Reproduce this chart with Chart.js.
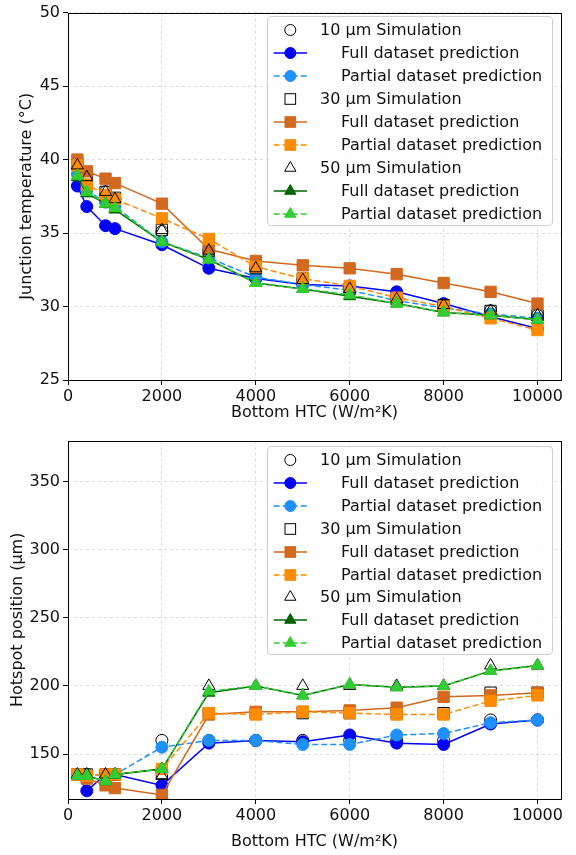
<!DOCTYPE html>
<html>
<head>
<meta charset="utf-8">
<script src="https://cdn.jsdelivr.net/npm/chart.js@4/dist/chart.umd.min.js"></script>
<style>
  html, body { margin: 0; padding: 0; background: #fff; }
  #page { position: relative; width: 576px; height: 855px; font-family: "DejaVu Sans", sans-serif; }
  .box { position: absolute; width: 576px; left: 0; }
  .legend { position: absolute; background: rgba(255,255,255,0.8); border: 1px solid #d0d0d0; border-radius: 4px; box-sizing: border-box; }
  .legend-row { position: absolute; left: 0; height: 20px; width: 100%; }
  .legend-row svg { position: absolute; left: 4px; top: 0; }
  .legend-row span { position: absolute; top: 0; line-height: 20px; font-size: 16px; color: #111; white-space: nowrap; }
</style>
</head>
<body>
<div id="page">
  <div class="box" style="top:0;height:428px"><canvas id="tempChart" width="576" height="428"></canvas></div>
  <div class="box" style="top:428px;height:427px"><canvas id="hotChart" width="576" height="427"></canvas></div>
  <div class="legend" id="tempLegend" style="left:267px;top:16px;width:286px;height:210px"></div>
  <div class="legend" id="hotLegend" style="left:267px;top:446px;width:286px;height:209px"></div>
</div>
<script>
(function(){
  // bottom heat transfer coefficient, W/m2K
  var htc = [200, 400, 800, 1000, 2000, 3000, 4000, 5000, 6000, 7000, 8000, 9000, 10000];

  // junction temperature (C)
  var sim10T  = [39.6, 38.9, 37.8, 37.3, 35.1, 33.8, 32.6, 31.8, 31.2, 30.5, 30.1, 29.7, 29.4];
  var full10T = [38.2, 36.8, 35.5, 35.3, 34.2, 32.6, 31.9, 31.5, 31.4, 31.0, 30.2, 29.3, 28.5];
  var part10T = [39.0, 37.9, 37.1, 36.8, 34.4, 33.3, 32.0, 31.5, 31.1, 30.4, 29.9, 29.5, 29.2];
  var sim30T  = [39.7, 38.9, 37.8, 37.4, 35.2, 33.8, 32.6, 31.9, 31.2, 30.5, 30.1, 29.7, 29.4];
  var full30T = [40.0, 39.2, 38.7, 38.4, 37.0, 33.9, 33.1, 32.8, 32.6, 32.2, 31.6, 31.0, 30.2];
  var part30T = [39.6, 38.3, 37.6, 37.3, 36.0, 34.6, 32.7, 31.9, 31.4, 30.6, 30.0, 29.2, 28.4];
  var sim50T  = [39.6, 38.8, 37.8, 37.3, 35.2, 33.8, 32.6, 31.8, 31.2, 30.5, 30.1, 29.7, 29.4];
  var full50T = [38.8, 37.7, 37.0, 36.6, 34.4, 33.2, 31.6, 31.2, 30.7, 30.2, 29.6, 29.4, 29.1];
  var part50T = [38.9, 37.8, 37.0, 36.7, 34.4, 33.2, 31.6, 31.2, 30.8, 30.2, 29.6, 29.4, 29.1];

  // hotspot position (um)
  var sim10H  = [135, 135, 135, 135, 160, 160, 160, 160, 160, 160, 160, 175, 175];
  var full10H = [135, 123, 135, 135, 127, 158, 160, 159, 164, 158, 157, 172, 175];
  var part10H = [135, 135, 134, 135, 155, 160, 160, 157, 157, 164, 165, 173, 175];
  var sim30H  = [135, 135, 135, 135, 136, 180, 180, 180, 180, 180, 180, 195, 195];
  var full30H = [135, 132, 127, 125, 120, 179, 181, 181, 182, 184, 192, 193, 195];
  var part30H = [135, 134, 135, 135, 139, 180, 179, 181, 180, 179, 179, 189, 193];
  var sim50H  = [135, 135, 135, 135, 134, 200, 200, 200, 200, 200, 200, 215, 215];
  var full50H = [134, 134, 130, 135, 139, 195, 200, 193, 201, 199, 200, 211, 215];
  var part50H = [134, 134, 130, 135, 139, 196, 200, 193, 201, 199, 200, 211, 215];

  var xTicks = [0, 2000, 4000, 6000, 8000, 10000];
  var tempTicks = [25, 30, 35, 40, 45, 50];
  var hotTicks = [150, 200, 250, 300, 350];

  var labels = ['10 \u00b5m Simulation', 'Full dataset prediction', 'Partial dataset prediction',
                '30 \u00b5m Simulation', 'Full dataset prediction', 'Partial dataset prediction',
                '50 \u00b5m Simulation', 'Full dataset prediction', 'Partial dataset prediction'];
  var shapes = ['circle', 'rect', 'triangle'];
  var radii = { circle: 6, rect: 8, triangle: 7 };
  var fullColors = ['#0000ff', '#d2691e', '#006400'];
  var partColors = ['#1e90ff', '#ff8c00', '#32cd32'];

  function pts(ys){
    return htc.map(function(x, i){ return { x: x, y: ys[i] }; });
  }

  function buildSets(groups){
    var sets = [];
    groups.forEach(function(g, k){
      var shape = shapes[k];
      sets.push({ kind: 'sim', data: pts(g[0]), showLine: false, pointStyle: shape,
        pointRadius: radii[shape], pointBackgroundColor: 'rgba(0,0,0,0)', pointBorderColor: '#000',
        pointBorderWidth: 1 });
      sets.push({ kind: 'full', data: pts(g[1]), borderColor: fullColors[k], borderWidth: 1.5,
        pointStyle: shape, pointRadius: radii[shape], pointBackgroundColor: fullColors[k],
        pointBorderColor: fullColors[k], pointBorderWidth: 1 });
      sets.push({ kind: 'part', data: pts(g[2]), borderColor: partColors[k], borderWidth: 1.5,
        borderDash: [6, 3], pointStyle: shape, pointRadius: radii[shape],
        pointBackgroundColor: partColors[k], pointBorderColor: partColors[k], pointBorderWidth: 1 });
    });
    sets.forEach(function(s, i){
      s.label = labels[i];
      s.order = 100 - i; // later series drawn on top, like matplotlib
      s.tension = 0;
    });
    return sets;
  }

  var frame = {
    id: 'frame',
    afterDraw: function(chart){
      var a = chart.chartArea, ctx = chart.ctx;
      ctx.save();
      ctx.strokeStyle = '#000';
      ctx.lineWidth = 1;
      ctx.strokeRect(Math.round(a.left) + 0.5, Math.round(a.top) + 0.5,
        Math.round(a.right - a.left), Math.round(a.bottom - a.top));
      ctx.restore();
    }
  };

  function plain(v){ return String(v); }

  function makeChart(id, sets, o){
    var font = { family: 'DejaVu Sans', size: 16 };
    var grid = { color: '#d3d3d3', lineWidth: 0.8, drawTicks: true,
      tickColor: '#000', tickLength: 5, tickWidth: 1, tickBorderDash: [] };
    var border = { display: false, dash: [3, 3] };
    return new Chart(document.getElementById(id), {
      type: 'line',
      data: { datasets: sets },
      plugins: [frame],
      options: {
        responsive: false,
        animation: false,
        events: [],
        layout: { padding: { left: 0, right: 15, top: o.padTop, bottom: 0 } },
        plugins: { legend: { display: false }, tooltip: { enabled: false } },
        scales: {
          x: {
            type: 'linear', min: 0, max: 10500,
            grid: grid, border: border,
            ticks: { font: font, color: '#111', padding: 2, maxRotation: 0, callback: plain },
            afterBuildTicks: function(s){ s.ticks = xTicks.map(function(v){ return { value: v }; }); },
            afterFit: function(s){ s.height = o.xHeight; },
            title: { display: true, text: 'Bottom HTC (W/m\u00b2K)', font: font, color: '#111',
              padding: { top: 0, bottom: o.xTitlePad } }
          },
          y: {
            min: o.yMin, max: o.yMax,
            grid: grid, border: border,
            ticks: { font: font, color: '#111', padding: 3, callback: plain },
            afterBuildTicks: function(s){ s.ticks = o.yTicks.map(function(v){ return { value: v }; }); },
            afterFit: function(s){ s.width = 68; },
            title: { display: true, text: o.yTitle, font: font, color: '#111',
              padding: { top: o.yTitlePad, bottom: 0 } }
          }
        }
      }
    });
  }

  function legendIcon(s){
    var c = s.pointBackgroundColor, e = s.pointBorderColor, r = s.pointRadius - 0.5, cx = 18.3, cy = 10;
    var svg = '<svg width="38" height="20" viewBox="0 0 38 20">';
    if (s.kind !== 'sim'){
      svg += '<line x1="1.7" y1="10" x2="35" y2="10" stroke="' + s.borderColor + '" stroke-width="1.5"' +
        (s.borderDash ? ' stroke-dasharray="' + s.borderDash.join(',') + '"' : '') + '/>';
    }
    var fill = s.kind === 'sim' ? 'none' : c;
    if (s.pointStyle === 'circle'){
      svg += '<circle cx="' + cx + '" cy="' + cy + '" r="' + r + '" fill="' + fill + '" stroke="' + e + '"/>';
    } else if (s.pointStyle === 'rect'){
      var h = r * Math.SQRT1_2;
      svg += '<rect x="' + (cx - h) + '" y="' + (cy - h) + '" width="' + 2 * h + '" height="' + 2 * h +
        '" fill="' + fill + '" stroke="' + e + '"/>';
    } else {
      var sz = r * 0.866;
      svg += '<polygon points="' + cx + ',' + (cy - r) + ' ' + (cx + sz) + ',' + (cy + r / 2) + ' ' +
        (cx - sz) + ',' + (cy + r / 2) + '" fill="' + fill + '" stroke="' + e + '"/>';
    }
    return svg + '</svg>';
  }

  function renderLegend(el, sets, firstRow){
    el.innerHTML = sets.map(function(s, i){
      var top = firstRow + i * 22.9 - 10;
      var left = s.kind === 'sim' ? 52 : 73;
      return '<div class="legend-row" style="top:' + top + 'px">' + legendIcon(s) +
        '<span style="left:' + left + 'px">' + s.label + '</span></div>';
    }).join('');
  }

  var tempSets = buildSets([[sim10T, full10T, part10T], [sim30T, full30T, part30T], [sim50T, full50T, part50T]]);
  var hotSets = buildSets([[sim10H, full10H, part10H], [sim30H, full30H, part30H], [sim50H, full50H, part50H]]);

  makeChart('tempChart', tempSets, { padTop: 8, xHeight: 48, xTitlePad: 5.5, yMin: 25, yMax: 50,
    yTicks: tempTicks, yTitle: 'Junction temperature (\u00b0C)', yTitlePad: 17.4 });
  makeChart('hotChart', hotSets, { padTop: 10, xHeight: 56, xTitlePad: 4, yMin: 117, yMax: 380,
    yTicks: hotTicks, yTitle: 'Hotspot position (\u00b5m)', yTitlePad: 8.7 });

  renderLegend(document.getElementById('tempLegend'), tempSets, 13.3);
  renderLegend(document.getElementById('hotLegend'), hotSets, 13);
})();
</script>
</body>
</html>
